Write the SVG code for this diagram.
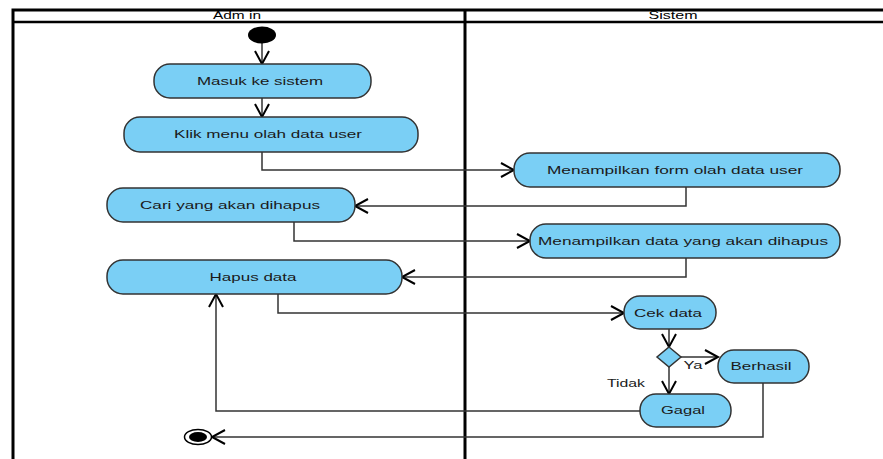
<svg xmlns="http://www.w3.org/2000/svg" width="883" height="459" viewBox="0 0 883 459">
<style>
.act{fill:#7ACFF5;stroke:#333;stroke-width:1.5}
.t{font-family:"Liberation Sans",Arial,sans-serif;font-size:11.5px;fill:#1a1a1a;text-anchor:middle}
.h{font-family:"Liberation Sans",Arial,sans-serif;font-size:11px;fill:#000;text-anchor:middle}
.c{fill:none;stroke:#333;stroke-width:1.5}
</style>
<defs>
<marker id="arr" markerUnits="userSpaceOnUse" markerWidth="20" markerHeight="20" refX="14" refY="8" orient="auto">
<path d="M1,1 L14,8 L1,15" fill="none" stroke="#000" stroke-width="2"/>
</marker>
</defs>
<rect width="883" height="459" fill="#fff"/>
<g id="swimlanes">
<path d="M13,470 L13,10 L900,10" fill="none" stroke="#000" stroke-width="3"/>
<line x1="13" y1="22" x2="900" y2="22" stroke="#000" stroke-width="2.5"/>
<line x1="465" y1="10" x2="465" y2="470" stroke="#000" stroke-width="3"/>
<text class="h" x="237" y="19" textLength="48" lengthAdjust="spacingAndGlyphs">Adm in</text>
<text class="h" x="673" y="19" textLength="49" lengthAdjust="spacingAndGlyphs">Sistem</text>
</g>
<g id="connectors">
<path class="c" d="M262,43 L262,64" marker-end="url(#arr)"/>
<path class="c" d="M262,98 L262,117" marker-end="url(#arr)"/>
<path class="c" d="M262,152 L262,170 L514,170" marker-end="url(#arr)"/>
<path class="c" d="M686,187 L686,206 L355,206" marker-end="url(#arr)"/>
<path class="c" d="M294,222 L294,241 L530,241" marker-end="url(#arr)"/>
<path class="c" d="M686,258 L686,277 L402,277" marker-end="url(#arr)"/>
<path class="c" d="M278,294 L278,313 L624,313" marker-end="url(#arr)"/>
<path class="c" d="M669,329 L669,347" marker-end="url(#arr)"/>
<path class="c" d="M681,357 L718,357" marker-end="url(#arr)"/>
<path class="c" d="M669,367 L669,394" marker-end="url(#arr)"/>
<path class="c" d="M640,411 L216,411 L216,294" marker-end="url(#arr)"/>
<path class="c" d="M763,383 L763,437 L212,437" marker-end="url(#arr)"/>
<text class="t" x="693" y="369" textLength="19" lengthAdjust="spacingAndGlyphs">Ya</text>
<text class="t" x="626" y="387" textLength="38" lengthAdjust="spacingAndGlyphs">Tidak</text>
</g>
<g id="start"><ellipse cx="262" cy="35" rx="14" ry="8.5" fill="#000"/></g>
<g id="masuk">
<rect class="act" x="154" y="64" width="217" height="34" rx="16" ry="16"/>
<text class="t" x="260" y="85" textLength="126" lengthAdjust="spacingAndGlyphs">Masuk ke sistem</text>
</g>
<g id="klik">
<rect class="act" x="124" y="117" width="294" height="35" rx="16" ry="16"/>
<text class="t" x="268" y="138" textLength="188" lengthAdjust="spacingAndGlyphs">Klik menu olah data user</text>
</g>
<g id="form">
<rect class="act" x="514" y="153" width="326" height="34" rx="16" ry="16"/>
<text class="t" x="675" y="174" textLength="256" lengthAdjust="spacingAndGlyphs">Menampilkan form  olah data user</text>
</g>
<g id="cari">
<rect class="act" x="107" y="188" width="248" height="34" rx="16" ry="16"/>
<text class="t" x="230" y="209" textLength="180" lengthAdjust="spacingAndGlyphs">Cari yang akan dihapus</text>
</g>
<g id="tampildata">
<rect class="act" x="530" y="224" width="310" height="34" rx="16" ry="16"/>
<text class="t" x="683" y="245" textLength="290" lengthAdjust="spacingAndGlyphs">Menampilkan data yang akan dihapus</text>
</g>
<g id="hapus">
<rect class="act" x="107" y="260" width="295" height="34" rx="16" ry="16"/>
<text class="t" x="253" y="281" textLength="87" lengthAdjust="spacingAndGlyphs">Hapus data</text>
</g>
<g id="cek">
<rect class="act" x="624" y="296" width="92" height="33" rx="16" ry="16"/>
<text class="t" x="668" y="317" textLength="68" lengthAdjust="spacingAndGlyphs">Cek data</text>
</g>
<g id="decision">
<polygon class="act" points="669,347 681,357 669,367 657,357"/>
</g>
<g id="berhasil">
<rect class="act" x="718" y="350" width="91" height="33" rx="16" ry="16"/>
<text class="t" x="761" y="370" textLength="61" lengthAdjust="spacingAndGlyphs">Berhasil</text>
</g>
<g id="gagal">
<rect class="act" x="640" y="394" width="91" height="33" rx="16" ry="16"/>
<text class="t" x="683" y="414" textLength="44" lengthAdjust="spacingAndGlyphs">Gagal</text>
</g>
<g id="end">
<ellipse cx="198" cy="437" rx="13.5" ry="7.5" fill="#fff" stroke="#000" stroke-width="1.5"/>
<ellipse cx="198" cy="437" rx="9" ry="5" fill="#000"/>
</g>
</svg>
